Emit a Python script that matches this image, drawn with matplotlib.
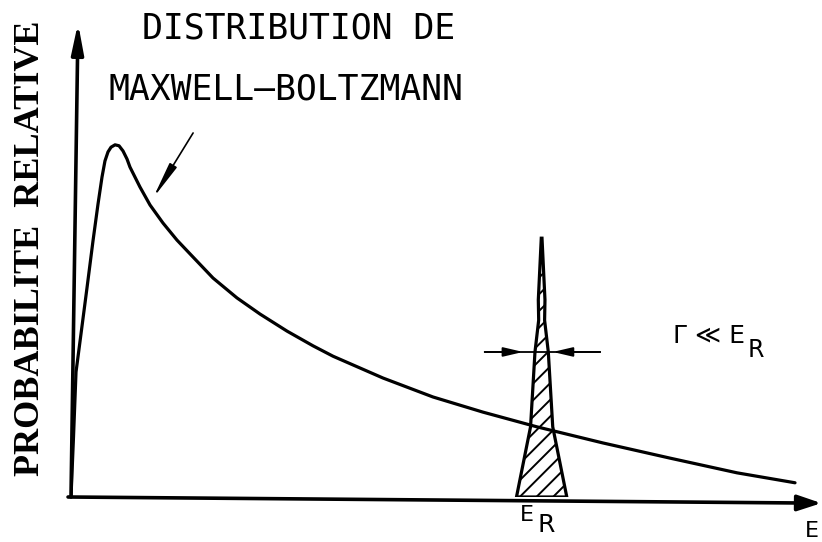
import matplotlib
matplotlib.use('Agg')
import matplotlib.pyplot as plt

# Maxwell-Boltzmann distribution (energy, relative probability), read point by point
mb_energy = [0.0, 0.34, 0.68, 1.35, 2.16, 2.97, 3.65, 4.19, 4.59, 5.0, 5.41, 5.95,
             6.49, 7.03, 7.57, 7.97, 9.32, 10.68, 12.43, 14.32, 16.08, 19.19, 22.43,
             25.54, 29.19, 32.70, 35.41, 42.16, 48.92, 55.68, 62.97, 71.89, 80.95,
             90.0, 97.84]
mb_prob = [0.0, 12.7, 26.4, 34.4, 44.1, 54.0, 61.8, 67.5, 70.9, 72.8, 73.8, 74.3,
           74.1, 73.0, 71.3, 69.6, 65.4, 61.6, 57.8, 54.2, 51.3, 46.2, 42.0,
           38.6, 35.0, 31.9, 29.7, 25.1, 21.1, 17.9, 14.8, 11.4, 8.2,
           5.1, 3.0]

# narrow resonance around E_R
peak_energy = [60.2, 62.1, 62.7, 63.2, 63.15, 63.55, 63.65, 64.05, 64.0, 64.5, 65.1, 67.0]
peak_prob = [0.0, 14.8, 30.6, 37.3, 41.6, 54.6, 54.6, 41.6, 37.3, 30.6, 14.8, 0.0]

gamma_level = 30.6
gamma_span = [55.9, 71.5]
gamma_tips = [61.1, 65.1]

plt.rcParams['hatch.linewidth'] = 1.4

fig = plt.figure(figsize=(8.22, 5.42), dpi=100)
ax = fig.add_axes([71 / 822, 45 / 542, 740 / 822, 474 / 542])
ax.set_xlim(0, 100)
ax.set_ylim(0, 100)
ax.axis('off')

# axes drawn as arrows
ax.annotate('', xy=(0.95, 100), xytext=(0, 0), annotation_clip=False,
            arrowprops=dict(arrowstyle='-|>,head_length=1.5,head_width=0.3', lw=2.6,
                            color='k', mutation_scale=12, shrinkA=0, shrinkB=0))
ax.annotate('', xy=(101.4, -1.3), xytext=(-0.4, 0), annotation_clip=False,
            arrowprops=dict(arrowstyle='-|>,head_length=1.2,head_width=0.4', lw=2.6,
                            color='k', mutation_scale=12, shrinkA=0, shrinkB=0))

# resonance peak, hatched
ax.fill(peak_energy, peak_prob, facecolor='white', edgecolor='black', hatch='//',
        lw=2.3, zorder=2)

ax.plot(mb_energy, mb_prob, color='black', lw=2.3, solid_capstyle='round',
        solid_joinstyle='round', zorder=3)

# width of the resonance
ax.plot(gamma_span, [gamma_level, gamma_level], color='black', lw=1.3, zorder=3)
ax.annotate('', xy=(gamma_tips[0], gamma_level), xytext=(gamma_span[0], gamma_level),
            arrowprops=dict(arrowstyle='-|>,head_length=1.5,head_width=0.35', lw=1.3,
                            color='k', mutation_scale=8, shrinkA=0, shrinkB=0))
ax.annotate('', xy=(gamma_tips[1], gamma_level), xytext=(gamma_span[1], gamma_level),
            arrowprops=dict(arrowstyle='-|>,head_length=1.5,head_width=0.35', lw=1.3,
                            color='k', mutation_scale=8, shrinkA=0, shrinkB=0))

# pointer to the distribution
ax.annotate('', xy=(11.1, 63.1), xytext=(16.5, 76.8), annotation_clip=False,
            arrowprops=dict(arrowstyle='-|>,head_length=2.2,head_width=0.25', lw=1.2,
                            color='k', mutation_scale=10, shrinkA=0, shrinkB=0))

title_font = ['DejaVu Sans Mono', 'DejaVu Sans']
ax.text(9.6, 96.8, 'DISTRIBUTION DE', family=title_font, fontsize=25,
        va='baseline', ha='left', clip_on=False)
ax.text(5.1, 83.8, 'MAXWELL\u2013BOLTZMANN', family=title_font, fontsize=25,
        va='baseline', ha='left', clip_on=False)

ax.text(-5.5, 52.5, 'PROBABILITE  RELATIVE', family='Liberation Serif',
        fontweight='bold', fontsize=26, rotation=90, ha='center', va='center',
        clip_on=False)

ax.text(81.4, 32.5, '\u0393 \u226a E', family='DejaVu Sans', fontsize=18,
        va='baseline', ha='left')
ax.text(91.4, 29.5, 'R', family='DejaVu Sans', fontsize=17, va='baseline', ha='left')

ax.text(60.7, -5.1, 'E', family='DejaVu Sans', fontsize=16, va='baseline', ha='left',
        clip_on=False)
ax.text(63.0, -7.4, 'R', family='DejaVu Sans', fontsize=18, va='baseline', ha='left',
        clip_on=False)
ax.text(99.2, -9.2, 'E', family='DejaVu Sans', fontsize=16, va='bottom', ha='left',
        clip_on=False)

fig.savefig('out.png', dpi=100, facecolor='white')
